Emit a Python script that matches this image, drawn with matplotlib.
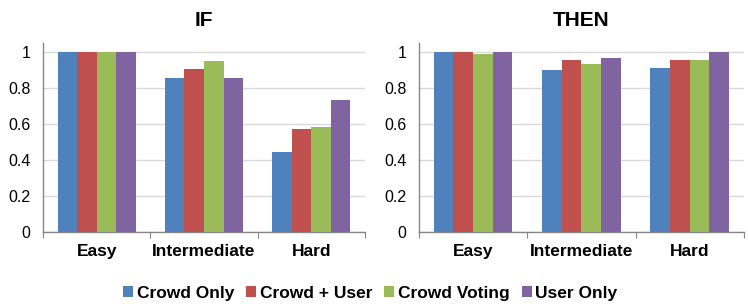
import matplotlib
matplotlib.use("Agg")
import matplotlib.pyplot as plt
import numpy as np
from matplotlib.patches import Patch

plt.rcParams['font.family'] = ['Liberation Sans', 'DejaVu Sans']

# Data
categories = ["Easy", "Intermediate", "Hard"]
series = ["Crowd Only", "Crowd + User", "Crowd Voting", "User Only"]
colors = ["#4F81BD", "#C0504D", "#9BBB59", "#8064A2"]

if_values = [
    [1.00, 0.853, 0.444],   # Crowd Only
    [1.00, 0.905, 0.571],   # Crowd + User
    [1.00, 0.948, 0.584],   # Crowd Voting
    [1.00, 0.853, 0.732],   # User Only
]
then_values = [
    [1.00, 0.900, 0.911],
    [1.00, 0.953, 0.957],
    [0.989, 0.931, 0.957],
    [1.00, 0.965, 1.00],
]
yticks = [0, 0.2, 0.4, 0.6, 0.8, 1]
ytick_labels = ["0", "0.2", "0.4", "0.6", "0.8", "1"]

fig = plt.figure(figsize=(7.48, 3.04), dpi=100)
ax1 = fig.add_axes([0.0575, 0.237, 0.4305, 0.6217])
ax2 = fig.add_axes([0.560, 0.237, 0.4345, 0.6217])

bar_w = 0.182


def draw_panel(ax, values, title):
    x = np.arange(len(categories)) + 0.5
    for i, (vals, col) in enumerate(zip(values, colors)):
        offs = (i - 1.5) * bar_w
        ax.bar(x + offs, vals, width=bar_w, color=col, zorder=3, linewidth=0)
    ax.set_xlim(0, 3)
    ax.set_ylim(0, 1.05)
    ax.set_yticks(yticks)
    ax.set_yticklabels(ytick_labels, fontsize=11.5)
    ax.tick_params(axis='y', length=0, pad=9)
    ax.yaxis.grid(True, color="#D9D9D9", linewidth=1, zorder=0)
    ax.set_axisbelow(True)

    # boundary ticks on major, labels on minor
    ax.set_xticks([0, 1, 2, 3])
    ax.set_xticklabels([])
    ax.set_xticks(x, minor=True)
    ax.set_xticklabels(categories, minor=True, fontsize=12.5, fontweight='bold')
    ax.tick_params(axis='x', which='major', length=4, color="#868686", direction='out')
    ax.tick_params(axis='x', which='minor', length=0, pad=9)

    for s in ['top', 'right']:
        ax.spines[s].set_visible(False)
    for s in ['left', 'bottom']:
        ax.spines[s].set_color("#868686")
        ax.spines[s].set_linewidth(1)
    ax.set_title(title, fontsize=15, fontweight='bold', pad=12)


draw_panel(ax1, if_values, "IF")
draw_panel(ax2, then_values, "THEN")

handles = [Patch(facecolor=c, edgecolor='none', label=s) for s, c in zip(series, colors)]
fig.legend(handles=handles, loc='lower center', bbox_to_anchor=(0.495, -0.04), ncol=4,
           frameon=False, prop={'size': 12.5, 'weight': 'bold'},
           handlelength=0.58, handleheight=0.58, handletextpad=0.2, columnspacing=0.7)

plt.savefig("out.png", dpi=100)
